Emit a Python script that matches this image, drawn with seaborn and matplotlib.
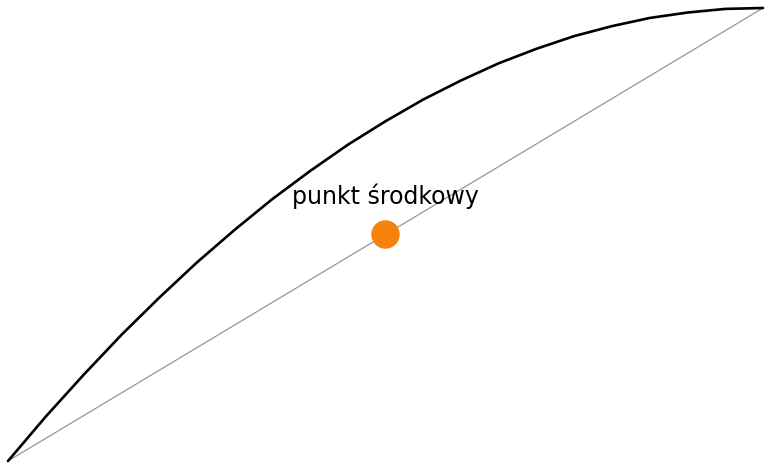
import seaborn as sns
import matplotlib.pyplot as plt

# points (x from left end to right end, y height)
arc_x = [0.0, 0.025, 0.05, 0.075, 0.1, 0.125, 0.15, 0.175, 0.2, 0.225,
         0.25, 0.275, 0.3, 0.325, 0.35, 0.375, 0.4, 0.425, 0.45, 0.475,
         0.5, 0.525, 0.55, 0.575, 0.6, 0.625, 0.65, 0.675, 0.7, 0.725,
         0.75, 0.775, 0.8, 0.825, 0.85, 0.875, 0.9, 0.925, 0.95, 0.975, 1.0]
arc_y = [0.0, 0.049, 0.098, 0.144, 0.19, 0.234, 0.278, 0.319, 0.36, 0.399,
         0.438, 0.474, 0.51, 0.544, 0.578, 0.609, 0.64, 0.669, 0.698, 0.724,
         0.75, 0.774, 0.798, 0.819, 0.84, 0.859, 0.878, 0.894, 0.91, 0.924,
         0.938, 0.949, 0.96, 0.969, 0.978, 0.984, 0.99, 0.994, 0.998, 0.999, 1.0]
chord_x = [0.0, 1.0]
chord_y = [0.0, 1.0]
mid_x = [0.5]
mid_y = [0.5]
mid_label = "punkt środkowy"

sns.set_style("white")

fig = plt.figure(figsize=(7.65, 4.63), dpi=100)
ax = fig.add_axes([0, 0, 1, 1])

sns.lineplot(x=chord_x, y=chord_y, color="#8c8c8c", linewidth=0.8, ax=ax)
sns.lineplot(x=arc_x, y=arc_y, color="black", linewidth=1.9, ax=ax, sort=False)
sns.scatterplot(x=mid_x, y=mid_y, color="#f5820d", s=420, edgecolor="none", ax=ax, zorder=5)
ax.text(mid_x[0], mid_y[0] + 0.084, mid_label, ha="center", va="center",
        fontsize=17, color="black")

ax.set_xlim(-8 / 755, 1 + 2 / 755)
ax.set_ylim(-2 / 453, 1 + 8 / 453)
ax.axis("off")

fig.savefig("out.png", dpi=100)
